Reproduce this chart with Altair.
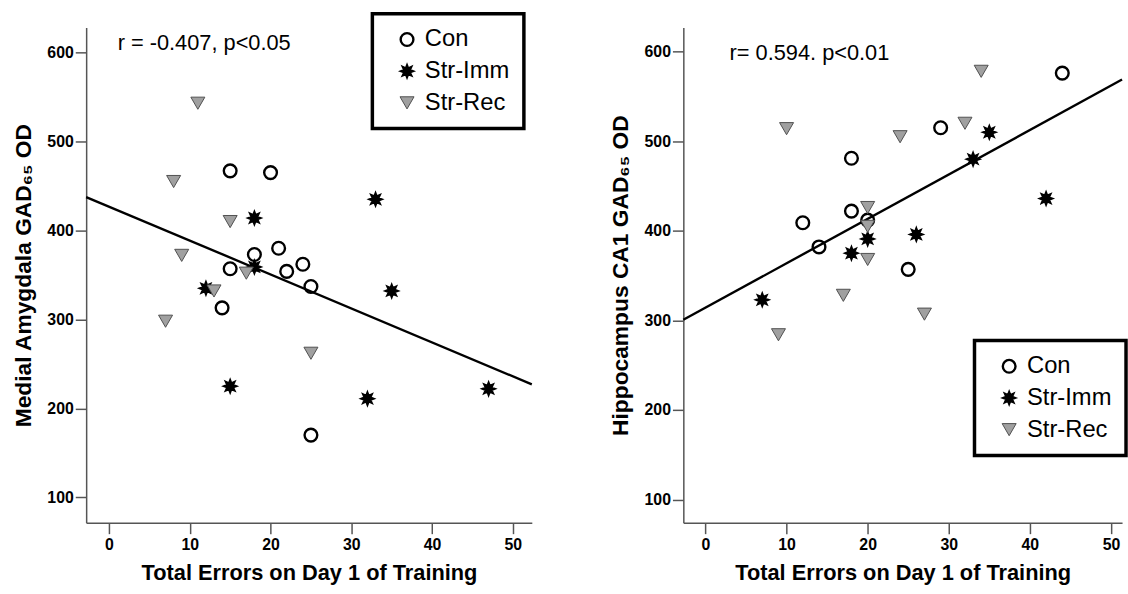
import altair as alt
import pandas as pd

groups = ["Con", "Str-Imm", "Str-Rec"]

# Left panel: Medial Amygdala GAD65 OD vs total errors
amy_con_x = [15, 20, 18, 21, 24, 15, 22, 25, 14, 25]
amy_con_y = [467, 465, 373, 380, 362, 357, 354, 337, 313, 170]
amy_imm_x = [33, 18, 18, 12, 35, 15, 32, 47]
amy_imm_y = [435, 414, 359, 335, 332, 225, 211, 222]
amy_rec_x = [11, 8, 15, 9, 17, 13, 7, 25]
amy_rec_y = [543, 455, 410, 372, 352, 332, 298, 262]

# Right panel: Hippocampus CA1 GAD65 OD vs total errors
hip_con_x = [44, 29, 18, 18, 20, 12, 14, 25]
hip_con_y = [576, 515, 481, 422, 412, 409, 382, 357]
hip_imm_x = [35, 33, 42, 26, 20, 18, 7]
hip_imm_y = [510, 480, 436, 396, 391, 375, 323]
hip_rec_x = [34, 10, 24, 32, 20, 20, 20, 17, 9, 27]
hip_rec_y = [578, 514, 505, 520, 426, 405, 368, 328, 284, 307]

x_ticks = [0, 10, 20, 30, 40, 50]
y_ticks = [100, 200, 300, 400, 500, 600]
x_title = "Total Errors on Day 1 of Training"
amy_title = "Medial Amygdala GAD\u2086\u2085 OD"
hip_title = "Hippocampus CA1 GAD\u2086\u2085 OD"
amy_note = ["r = -0.407, p<0.05"]
hip_note = ["r= 0.594. p<0.01"]

STAR = ("M0,-1L0.2,-0.48L0.707,-0.707L0.48,-0.2L1,0L0.48,0.2"
        "L0.707,0.707L0.2,0.48L0,1L-0.2,0.48L-0.707,0.707L-0.48,0.2"
        "L-1,0L-0.48,-0.2L-0.707,-0.707L-0.2,-0.48Z")

FONT = "Liberation Sans"


def make_df(cx, cy, ix, iy, rx, ry):
    rows = []
    for g, xs, ys in [("Con", cx, cy), ("Str-Imm", ix, iy), ("Str-Rec", rx, ry)]:
        for a, b in zip(xs, ys):
            rows.append({"x": a, "y": b, "group": g})
    return pd.DataFrame(rows)


def panel(df, xdom, ydom, width, ytitle, note, note_xy, leg_xy):
    xs = alt.Scale(domain=xdom, nice=False, zero=False)
    ys = alt.Scale(domain=ydom, nice=False, zero=False)
    xaxis = alt.Axis(values=x_ticks, title=x_title, labelPadding=3, titlePadding=10,
                     titleFontSize=22, grid=False)
    yaxis = alt.Axis(values=y_ticks, title=ytitle, labelPadding=2, titlePadding=12,
                     titleFontSize=23, grid=False)
    leg = alt.Legend(title=None, orient="none", legendX=leg_xy[0], legendY=leg_xy[1],
                     labelFontSize=24, labelFont=FONT, labelColor="black",
                     strokeColor="black", fillColor="white", padding=14,
                     rowPadding=8, symbolOffset=9, labelOffset=6)
    base = alt.Chart(df)
    points = base.mark_point(filled=True, opacity=1).encode(
        x=alt.X("x:Q", scale=xs, axis=xaxis),
        y=alt.Y("y:Q", scale=ys, axis=yaxis),
        shape=alt.Shape("group:N", scale=alt.Scale(domain=groups, range=["circle", STAR, "triangle-down"]), legend=leg),
        fill=alt.Fill("group:N", scale=alt.Scale(domain=groups, range=["transparent", "black", "#a0a0a0"]), legend=leg),
        stroke=alt.Stroke("group:N", scale=alt.Scale(domain=groups, range=["black", "black", "#505050"]), legend=leg),
        strokeWidth=alt.StrokeWidth("group:N", scale=alt.Scale(domain=groups, range=[2.4, 1.0, 1.0]), legend=leg),
        size=alt.Size("group:N", scale=alt.Scale(domain=groups, range=[165, 200, 170]), legend=leg),
    )
    line = base.transform_regression("x", "y", extent=xdom).mark_line(
        color="black", strokeWidth=2.4).encode(x="x:Q", y="y:Q")
    ann_df = pd.DataFrame({"x": [note_xy[0]], "y": [note_xy[1]], "label": note})
    ann = alt.Chart(ann_df).mark_text(align="left", baseline="middle", fontSize=22,
                                      font=FONT, color="black").encode(
        x="x:Q", y="y:Q", text="label:N")
    return alt.layer(line, points, ann).properties(width=width, height=500)


amy_df = make_df(amy_con_x, amy_con_y, amy_imm_x, amy_imm_y, amy_rec_x, amy_rec_y)
hip_df = make_df(hip_con_x, hip_con_y, hip_imm_x, hip_imm_y, hip_rec_x, hip_rec_y)

left = panel(amy_df, [-2.83, 52.35], [71.5, 628], 450, amy_title, amy_note, [1.07, 611], [289, -14])
right = panel(hip_df, [-2.73, 51.37], [74.2, 626.8], 443, hip_title, hip_note, [2.97, 598], [294, 316])

chart = alt.hconcat(left, right, spacing=73).resolve_scale(
    x="independent", y="independent"
).resolve_legend(
    shape="independent", fill="independent", stroke="independent",
    strokeWidth="independent", size="independent"
).configure_view(strokeWidth=0).configure_axis(
    domainColor="#555555", domainWidth=1.5, tickColor="#555555", tickWidth=1.5,
    tickSize=11, labelFont=FONT, labelFontSize=16, labelFontWeight="bold",
    labelColor="black", titleFont=FONT, titleFontWeight="bold", titleColor="black"
).configure_legend(strokeWidth=3.5).properties(
    padding={"left": 12, "top": 9, "right": 0, "bottom": 0},
    background="white"
)

chart.save("out.html", embed_options={"renderer": "svg", "actions": False})
